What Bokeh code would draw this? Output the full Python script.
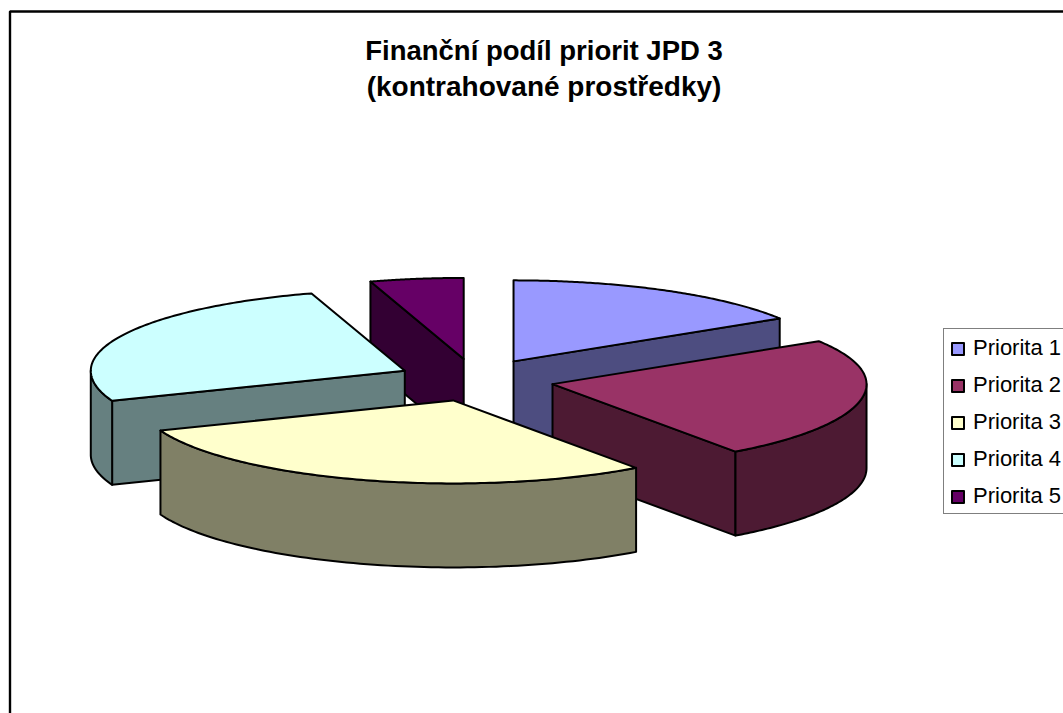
import numpy as np
from bokeh.core.properties import value
from bokeh.embed import file_html
from bokeh.models import Legend, LegendItem, Range1d
from bokeh.plotting import figure
from bokeh.resources import INLINE

title_lines = ["Finanční podíl priorit JPD 3", "(kontrahované prostředky)"]
categories = ["Priorita 1", "Priorita 2", "Priorita 3", "Priorita 4", "Priorita 5"]
shares = [16.1, 24.0, 29.0, 26.1, 4.8]
top_colors = ["#9999FF", "#993366", "#FFFFCC", "#CCFFFF", "#660066"]
side_colors = ["#4D4D80", "#4D1A33", "#808066", "#668080", "#330033"]

# projection of the exploded 3D pie, in page pixels
CX, CY, RX, RY_BACK, RY_FRONT, DEPTH = 475.0, 379.5, 314.0, 81.0, 83.0, 84.0
EXPLODE_X, EXPLODE_Y = 0.25, 0.263
LW = 2.0

p = figure(width=1063, height=713, output_backend="svg", toolbar_location=None,
           x_range=Range1d(0, 1063), y_range=Range1d(713, 0),
           x_axis_type=None, y_axis_type=None, min_border=0,
           outline_line_color=None, background_fill_color="white")

# chart-area frame, running off the window at right and bottom
p.quad(left=9.5, right=1300, top=11, bottom=1000, fill_color=None, line_color="black", line_width=2.4)

vals = np.array(shares, dtype=float)
edges = np.concatenate([[0.0], np.cumsum(vals) / vals.sum() * 2 * np.pi])


def face(xs, ys, color):
    return p.patch(xs, ys, fill_color=color, line_color="black", line_width=LW, line_join="round")


def draw_slice(i):
    t0, t1 = edges[i], edges[i + 1]
    mid = (t0 + t1) / 2
    ax = CX + EXPLODE_X * RX * np.sin(mid)
    ay = CY - EXPLODE_Y * RY_BACK * np.cos(mid)
    px = lambda t: ax + RX * np.sin(t)
    py = lambda t: ay - np.where(np.cos(t) > 0, RY_BACK, RY_FRONT) * np.cos(t)
    # flat radial walls, only those facing the viewer
    for t, normal in ((t0, t0 - np.pi / 2), (t1, t1 + np.pi / 2)):
        if np.cos(normal) < -1e-6:
            xs = [ax, px(t), px(t), ax]
            ys = [ay, py(t), py(t) + DEPTH, ay + DEPTH]
            face(xs, ys, side_colors[i])
    # curved outer wall: front half only
    lo, hi = max(t0, np.pi / 2), min(t1, 3 * np.pi / 2)
    if hi > lo:
        ts = np.linspace(lo, hi, 80)
        xs = np.concatenate([px(ts), px(ts)[::-1]])
        ys = np.concatenate([py(ts), py(ts)[::-1] + DEPTH])
        face(xs, ys, side_colors[i])
    # top
    ts = np.linspace(t0, t1, 120)
    return face(np.concatenate([[ax], px(ts)]), np.concatenate([[ay], py(ts)]), top_colors[i])


mids = (edges[:-1] + edges[1:]) / 2
order = np.argsort(-np.cos(mids))  # back to front
tops = {}
for i in order:
    tops[int(i)] = draw_slice(int(i))

legend = Legend(
    items=[LegendItem(label=c, renderers=[tops[i]]) for i, c in enumerate(categories)],
    location=(943, 199), orientation="vertical", margin=0,
    padding=dict(left=6, right=8, top=6, bottom=4),
    border_line_color="black", border_line_width=1.8, background_fill_color="white", background_fill_alpha=1,
    glyph_width=15, glyph_height=15, label_standoff=8, spacing=11, label_width=160, label_height=26,
    label_text_font="Liberation Sans", label_text_font_size="22px", label_text_color="black",
    label_text_baseline="middle",
)
p.add_layout(legend)

for line, y, size in zip(title_lines, (50, 86), ("27.5px", "28px")):
    p.text([543.5], [y], text=[line], text_font=value("Liberation Sans"), text_font_size=size,
           text_font_style="bold", text_color="black", text_align="center", text_baseline="alphabetic")

open("out.html", "w").write(file_html(p, INLINE))
